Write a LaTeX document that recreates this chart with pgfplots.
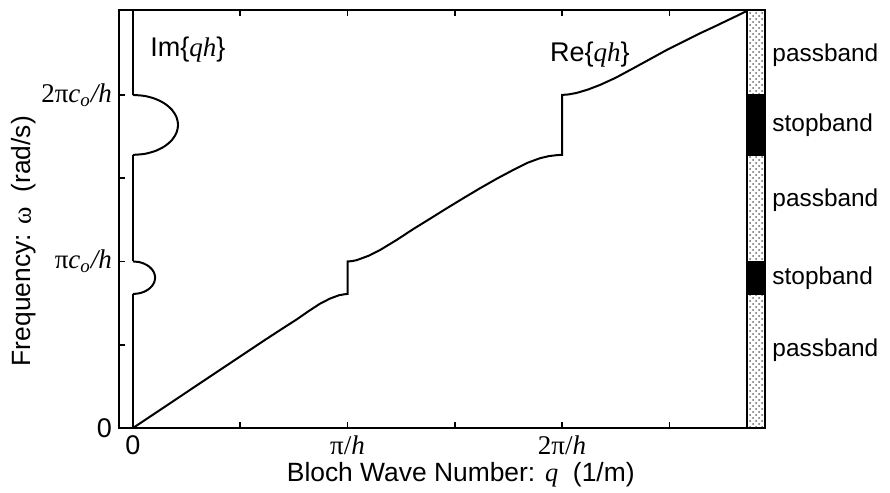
\documentclass[border=0pt]{standalone}
\usepackage{fontspec}
\setmainfont{Liberation Sans}
\newfontfamily\tms{Liberation Serif}
\usepackage{pgfplots}
\pgfplotsset{compat=1.18}
\usetikzlibrary{patterns}
\begin{document}
\begin{tikzpicture}
\path[use as bounding box] (-59.5pt,-32.5pt) rectangle (385.5pt,214pt);
\begin{axis}[
  at={(0,0)}, anchor=south west,
  scale only axis, width=323pt, height=209pt,
  xmin=-0.0653, xmax=2.946, ymin=0, ymax=2.51,
  axis line style={line width=0.9pt},
  xtick={0,1,2}, xticklabels={0,{\tms π/\textit{h}},{\tms 2π/\textit{h}}},
  minor xtick={0.5,1.5,2.5},
  ytick={0,1,2}, yticklabels={0,{\tms π\textit{c\textsubscript{o}/h}},{\tms 2π\textit{c\textsubscript{o}/h}}},
  minor ytick={0.5,1.5},
  xtick pos=both, ytick pos=left,
  tick align=inside,
  major tick length=3pt, minor tick length=3pt,
  every tick/.style={black, line width=0.8pt},
  tick label style={font=\fontsize{13.5}{15}\selectfont},
  xticklabel style={anchor=base, yshift=-13pt},
  xlabel={Bloch Wave Number: {\tms\itshape q}\ \ (1/m)},
  ylabel={Frequency: {\tms ω}\ \ (rad/s)},
  label style={font=\fontsize{13.2}{15}\selectfont},
  xlabel style={at={(axis description cs:0.529,-0.128)}, anchor=base},
  ylabel style={at={(axis description cs:-0.147,0.447)}, anchor=center},
  clip=false,
]
% band strip
\addplot[draw=black, line width=0.8pt, pattern=crosshatch dots, pattern color=black!60]
  coordinates {(2.8625,0) (2.946,0) (2.946,0.805) (2.8625,0.805)} -- cycle;
\addplot[draw=black, line width=0.8pt, fill=black]
  coordinates {(2.8625,0.805) (2.946,0.805) (2.946,1.0) (2.8625,1.0)} -- cycle;
\addplot[draw=black, line width=0.8pt, pattern=crosshatch dots, pattern color=black!60]
  coordinates {(2.8625,1.0) (2.946,1.0) (2.946,1.64) (2.8625,1.64)} -- cycle;
\addplot[draw=black, line width=0.8pt, fill=black]
  coordinates {(2.8625,1.64) (2.946,1.64) (2.946,2.0) (2.8625,2.0)} -- cycle;
\addplot[draw=black, line width=0.8pt, pattern=crosshatch dots, pattern color=black!60]
  coordinates {(2.8625,2.0) (2.946,2.0) (2.946,2.51) (2.8625,2.51)} -- cycle;
% Re{qh}
\addplot[black, line width=1pt] coordinates {
 (0,0) (0.2,0.172) (0.4,0.344) (0.6,0.516) (0.7,0.60) (0.763,0.652) (0.82,0.703)
 (0.87,0.745) (0.918,0.777) (0.96,0.797) (0.99,0.804) (1,0.805)
 (1,1.0) (1.02,1.002) (1.043,1.008) (1.1,1.035) (1.152,1.069) (1.23,1.13) (1.307,1.195)
 (1.385,1.257) (1.462,1.319) (1.54,1.38) (1.618,1.440) (1.70,1.50) (1.773,1.550)
 (1.84,1.593) (1.897,1.620) (1.94,1.633) (1.98,1.639) (2,1.64)
 (2,2.0) (2.03,2.003) (2.068,2.012) (2.12,2.032) (2.177,2.06) (2.25,2.103) (2.332,2.160)
 (2.41,2.215) (2.488,2.270) (2.565,2.32) (2.643,2.370) (2.71,2.41) (2.768,2.446)
 (2.82,2.478) (2.862,2.505)};
% Im{qh}
\addplot[black, line width=1pt] coordinates {(0,0) (0,0.805)};
\addplot[black, line width=1pt, smooth] coordinates {
 (0,0.805) (0.027,0.8083) (0.0515,0.8181) (0.0728,0.8336) (0.0892,0.8538) (0.0995,0.8773)
 (0.103,0.9025) (0.0995,0.9277) (0.0892,0.9513) (0.0728,0.9714) (0.0515,0.9869)
 (0.027,0.9967) (0,1.0)};
\addplot[black, line width=1pt] coordinates {(0,1.0) (0,1.64)};
\addplot[black, line width=1pt, smooth] coordinates {
 (0,1.64) (0.0544,1.6461) (0.105,1.6641) (0.1485,1.6927) (0.1819,1.73) (0.2028,1.7734)
 (0.21,1.82) (0.2028,1.8666) (0.1819,1.91) (0.1485,1.9473) (0.105,1.9759)
 (0.0544,1.9939) (0,2.0)};
\addplot[black, line width=1pt] coordinates {(0,2.0) (0,2.51)};
% labels
\node[font=\fontsize{13.5}{15}\selectfont] at (axis cs:0.256,2.27) {Im\{{\tms\itshape qh}\}};
\node[font=\fontsize{13.5}{15}\selectfont] at (axis cs:2.13,2.24) {Re\{{\tms\itshape qh}\}};
\begin{scope}[every node/.style={anchor=west, font=\fontsize{12.2}{14}\selectfont, xshift=0.2pt}]
\node at (axis cs:2.946,2.24) {passband};
\node at (axis cs:2.946,1.82) {stopband};
\node at (axis cs:2.946,1.37) {passband};
\node at (axis cs:2.946,0.90) {stopband};
\node at (axis cs:2.946,0.47) {passband};
\end{scope}
\end{axis}
\end{tikzpicture}
\end{document}
